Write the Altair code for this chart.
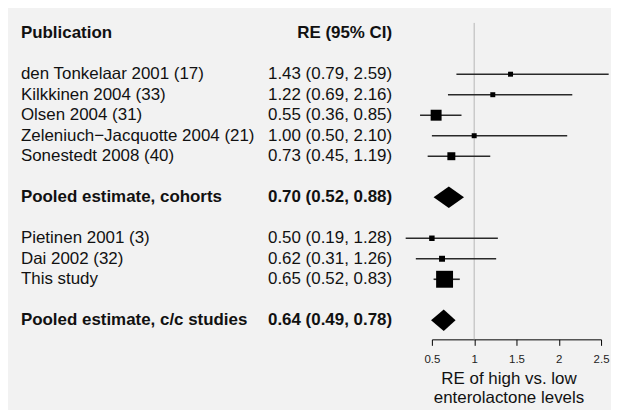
import altair as alt
import pandas as pd

# ---- data ----
study_names = ["den Tonkelaar 2001 (17)", "Kilkkinen 2004 (33)", "Olsen 2004 (31)",
               "Zeleniuch\u2212Jacquotte 2004 (21)", "Sonestedt 2008 (40)",
               "Pietinen 2001 (3)", "Dai 2002 (32)", "This study"]
study_rows = [2, 3, 4, 5, 6, 10, 11, 12]
study_est = [1.43, 1.22, 0.55, 1.00, 0.73, 0.50, 0.62, 0.65]
study_lo = [0.79, 0.69, 0.36, 0.50, 0.45, 0.19, 0.31, 0.52]
study_hi = [2.59, 2.16, 0.85, 2.10, 1.19, 1.28, 1.26, 0.83]
study_weight = [25, 25, 121, 25, 64, 30, 36, 289]

pooled_names = ["Pooled estimate, cohorts", "Pooled estimate, c/c studies"]
pooled_rows = [8, 14]
pooled_est = [0.70, 0.64]
pooled_lo = [0.52, 0.49]
pooled_hi = [0.88, 0.78]

header_left = "Publication"
header_right = "RE (95% CI)"
x_ticks = [0.5, 1, 1.5, 2, 2.5]
x_title = ["RE of high vs. low", "enterolactone levels"]
ref_value = 1

FONT = "Liberation Sans"
FS = 17


def ci_text(e, l, h):
    return f"{e:.2f} ({l:.2f}, {h:.2f})"


studies = pd.DataFrame({
    "name": study_names, "row": study_rows, "est": study_est,
    "lo": study_lo, "hi": study_hi, "w": study_weight,
})
studies["ci"] = [ci_text(e, l, h) for e, l, h in zip(study_est, study_lo, study_hi)]

pooled = pd.DataFrame({
    "name": pooled_names, "row": pooled_rows, "est": pooled_est,
    "lo": pooled_lo, "hi": pooled_hi,
})
pooled["ci"] = [ci_text(e, l, h) for e, l, h in zip(pooled_est, pooled_lo, pooled_hi)]

header = pd.DataFrame({"name": [header_left], "ci": [header_right], "row": [0]})
bold = pd.concat([header, pooled[["name", "ci", "row"]]], ignore_index=True)

half = 0.52
dia_rows = []
for n, r, e, l, h in zip(pooled_names, pooled_rows, pooled_est, pooled_lo, pooled_hi):
    dia_rows.append({"name": n, "x": l, "y": r, "y2": r})
    dia_rows.append({"name": n, "x": e, "y": r - half, "y2": r + half})
    dia_rows.append({"name": n, "x": h, "y": r, "y2": r})
diamonds = pd.DataFrame(dia_rows)

xscale = alt.Scale(domain=[0.5, 2.5], nice=False, zero=False)
yscale = alt.Scale(domain=[-0.5, 14.93], reverse=True, nice=False, zero=False)
xaxis = alt.Axis(values=x_ticks, format="~g", title=x_title, grid=False,
                 domainColor="#000", tickColor="#000", tickSize=6,
                 labelFont=FONT, labelFontSize=11.5, labelColor="#222",
                 labelBaseline="alphabetic", labelPadding=17,
                 labelFlush=False,
                 titleFont=FONT, titleFontSize=FS, titleFontWeight="normal",
                 titleColor="#111", titleLineHeight=19, titleBaseline="alphabetic",
                 titleX=77, titleY=44, titleAlign="center")
Y = lambda f: alt.Y(f, type="quantitative", scale=yscale, axis=None)

ref = alt.Chart(pd.DataFrame({"v": [ref_value]})).mark_rule(
    color="#b5b5b5", strokeWidth=1
).encode(x=alt.X("v:Q", scale=xscale, axis=xaxis))

lines = alt.Chart(studies).mark_rule(color="#2a2a2a", strokeWidth=1.6).encode(
    x=alt.X("lo:Q", scale=xscale, axis=xaxis), x2="hi:Q", y=Y("row"))

squares = alt.Chart(studies).mark_square(color="#000", opacity=1, filled=True).encode(
    x=alt.X("est:Q", scale=xscale, axis=xaxis), y=Y("row"),
    size=alt.Size("w:Q", scale=alt.Scale(domain=[0, 300], range=[0, 300], zero=True), legend=None))

dia = alt.Chart(diamonds).mark_area(color="#000", orient="vertical", opacity=1).encode(
    x=alt.X("x:Q", scale=xscale, axis=xaxis), y=Y("y"), y2="y2", detail="name:N")

txt_kw = dict(font=FONT, fontSize=FS, baseline="middle", color="#111")
names_normal = alt.Chart(studies).mark_text(align="left", **txt_kw).encode(
    x=alt.value(-413), y=Y("row"), text="name:N")
ci_normal = alt.Chart(studies).mark_text(align="right", **txt_kw).encode(
    x=alt.value(-40), y=Y("row"), text="ci:N")
names_bold = alt.Chart(bold).mark_text(align="left", fontWeight="bold", **txt_kw).encode(
    x=alt.value(-413), y=Y("row"), text="name:N")
ci_bold = alt.Chart(bold).mark_text(align="right", fontWeight="bold", **txt_kw).encode(
    x=alt.value(-40), y=Y("row"), text="ci:N")

chart = alt.layer(ref, lines, squares, dia, names_normal, ci_normal, names_bold, ci_bold).properties(
    width=170, height=318,
    padding={"left": 426, "top": 14, "right": 10, "bottom": 70},
    autosize=alt.AutoSizeParams(type="none"),
    background="#f2f2f2",
).configure_view(stroke=None)

chart.save("out.html", embed_options={"renderer": "svg", "actions": False})
